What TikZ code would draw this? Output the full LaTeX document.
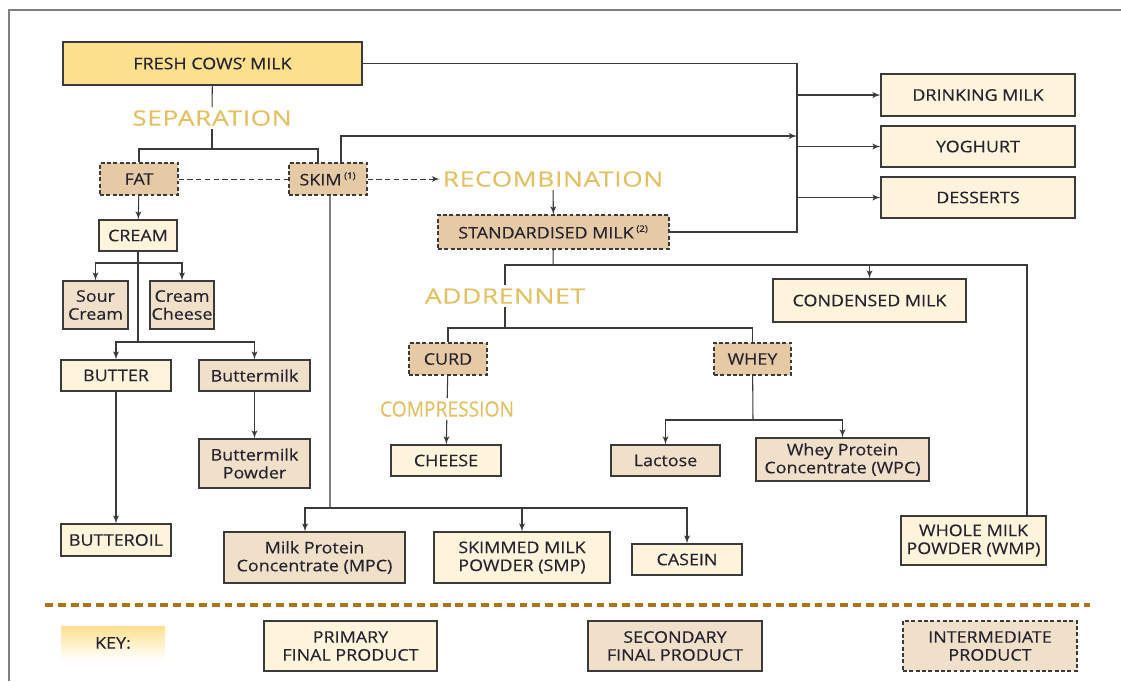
\documentclass[tikz,border=0pt]{standalone}
\usepackage{fontspec}
\setmainfont{Open Sans}
\usepackage{tikz}
\usetikzlibrary{arrows}
\usetikzlibrary{positioning}
\definecolor{primfill}{HTML}{FEF4DC}
\definecolor{secfill}{HTML}{F0DFC9}
\definecolor{midfill}{HTML}{E6CAA6}
\definecolor{freshfill}{HTML}{FDE08E}
\definecolor{linecol}{HTML}{3A3A3A}
\definecolor{txtcol}{HTML}{25232F}
\definecolor{goldtxt}{HTML}{E2C164}
\definecolor{rulebrown}{HTML}{AD7316}
\tikzset{>=latex'}
\tikzset{wh/.style 2 args = {minimum width=#1*0.02cm, minimum height=#2*0.02cm,
                             inner sep=0pt, align=center, text=txtcol,
                             font=\fontsize{9.1}{10.2}\selectfont\addfontfeature{FakeStretch=1.12,FakeBold=0.3}}}
\tikzset{primbox/.style = {draw=linecol, fill=primfill, line width=0.6pt}}
\tikzset{secbox/.style = {draw=linecol, fill=secfill, line width=0.6pt}}
\tikzset{midbox/.style = {draw=linecol, fill=midfill, line width=0.6pt,
                          dash pattern=on 2.2pt off 1.4pt}}
\tikzset{stagelbl/.style = {text=goldtxt, inner sep=1.5pt,
                            font=\fontsize{12}{14}\selectfont\addfontfeature{FakeStretch=1.25,LetterSpace=3,FakeBold=0.3}}}
\newcommand{\fnote}[1]{\textsuperscript{\fontsize{5}{6}\selectfont(#1)}}

\begin{document}
\begin{tikzpicture}[x=0.02cm, y=-0.02cm, line width=0.6pt, draw=linecol]
      \useasboundingbox (0,0) rectangle (1121,681);
      \draw [gray] (9,681) -- (9,10) -- (1121,10);
      % products and steps
      \node [primbox, fill=freshfill, wh={299}{43}] (fresh) at (212.5,63.5) {FRESH COWS' MILK};
      \node [stagelbl] (sep) at (212,118) {SEPARATION};
      \node [midbox, wh={78}{32}] (fat) at (139,179) {FAT};
      \node [midbox, wh={78}{32}] (skim) at (328,179) {SKIM\,\fnote{1}};
      \node [stagelbl] (recomb) at (553,179) {RECOMBINATION};
      \node [midbox, wh={231}{34}] (std) at (553.5,232) {STANDARDISED MILK\,\fnote{2}};
      \node [primbox, wh={194}{42}] (drink) at (978,95) {DRINKING MILK};
      \node [primbox, wh={194}{41}] (yog) at (978,146.5) {YOGHURT};
      \node [primbox, wh={194}{41}] (dess) at (978,197.5) {DESSERTS};
      \node [primbox, wh={78}{31}] (cream) at (138,235.5) {CREAM};
      \node [secbox, wh={65}{48}] (sour) at (95.5,305) {Sour\\Cream};
      \node [secbox, wh={64}{48}] (ccheese) at (182,305) {Cream\\Cheese};
      \node [primbox, wh={110}{31}] (butter) at (116,375.5) {BUTTER};
      \node [secbox, wh={111}{31}] (bmilk) at (254.5,375.5) {Buttermilk};
      \node [secbox, wh={111}{49}] (bpowder) at (254.5,463.5) {Buttermilk\\Powder};
      \node [primbox, wh={110}{32}] (butteroil) at (116,540) {BUTTEROIL};
      \node [primbox, wh={193}{43}] (cond) at (869.5,300.5) {CONDENSED MILK};
      \node [stagelbl] (addr) at (505,296) {ADDRENNET};
      \node [stagelbl, font=\fontsize{12}{14}\selectfont\addfontfeature{FakeBold=0.3}] (compr) at (447,409) {\scalebox{0.91}[1]{COMPRESSION}};
      \node [midbox, wh={78}{32}] (curd) at (448,359) {CURD};
      \node [midbox, wh={77}{32}] (whey) at (752.5,359) {WHEY};
      \node [primbox, wh={110}{31}] (cheese) at (446,460.5) {CHEESE};
      \node [secbox, wh={109}{31}] (lactose) at (665.5,460.5) {Lactose};
      \node [secbox, wh={173}{43}] (wpc) at (842.5,459.5) {Whey Protein\\Concentrate (WPC)};
      \node [primbox, wh={145}{49}] (wmp) at (973.5,540.5) {WHOLE MILK\\POWDER (WMP)};
      \node [secbox, wh={181}{51}] (mpc) at (314.5,557.5) {Milk Protein\\Concentrate (MPC)};
      \node [primbox, wh={176}{51}] (smp) at (522,557.5) {SKIMMED MILK\\POWDER (SMP)};
      \node [primbox, wh={110}{31}] (casein) at (687,559.5) {CASEIN};
      % junctions
      \coordinate (sepj) at (212,149);
      \coordinate (bus) at (797,0);
      \coordinate (skimbus) at (797,136);
      \coordinate (stdj) at (553,265);
      \coordinate (addrj) at (505,328);
      \coordinate (wheyj) at (753,420);
      \coordinate (creamj) at (138,263);
      \coordinate (churnj) at (138,342);
      \coordinate (skimj) at (330,508);
      % connectors
      \draw (fresh) -- (sep);
      \draw (sep) -- (sepj);
      \draw (sepj) -| (fat);
      \draw (sepj) -| ([xshift=-0.2cm]skim.north);
      \draw [line width=0.5pt, dash pattern=on 3pt off 2pt] (fat) -- (skim);
      \draw [line width=0.5pt, dash pattern=on 3pt off 2pt, ->] (skim) -- (recomb);
      \draw [->] ([xshift=0.26cm]skim.north) |- (skimbus);
      \draw (fresh.east) -- (fresh.east -| bus) -- (std.east -| bus) -- (std.east);
      \draw [->] (drink.west -| bus) -- (drink.west);
      \draw [->] (yog.west -| bus) -- (yog.west);
      \draw [->] (dess.west -| bus) -- (dess.west);
      \draw [->] (recomb) -- (std);
      \draw (std) -- (stdj);
      \draw (stdj) -| (addr);
      \draw [->] (stdj) -| (cond);
      \draw (stdj) -| ([xshift=1.07cm]wmp.north);
      \draw (addr) -- (addrj);
      \draw (addrj) -| (curd);
      \draw (addrj) -| (whey);
      \draw (curd) -- (compr);
      \draw [->] (compr) -- (cheese);
      \draw (whey) -- (wheyj);
      \draw [->] (wheyj) -| (lactose);
      \draw [->] (wheyj) -| (wpc);
      \draw [->] (fat) -- (cream);
      \draw (cream) -- (churnj);
      \draw [->] (creamj) -| (sour);
      \draw [->] (creamj) -| (ccheese);
      \draw [->] (churnj) -| (butter);
      \draw [->] (churnj) -| (bmilk);
      \draw [->] (bmilk) -- (bpowder);
      \draw [->] (butter) -- (butteroil);
      \draw ([xshift=0.04cm]skim.south) -- (skimj);
      \draw [->] (skimj) -| ([xshift=-0.19cm]mpc.north);
      \draw [->] (skimj) -| (smp);
      \draw [->] (skimj) -| (casein);
      % key
      \draw [rulebrown, line width=2.2pt, dash pattern=on 4.5pt off 2.8pt] (45,605) -- (1090,605);
      \node [wh={104}{34}, top color=freshfill, bottom color=white] (key) at (113,643) {KEY:};
      \node [primbox, wh={173}{50}] (kprim) at (350.5,646) {PRIMARY\\FINAL PRODUCT};
      \node [secbox, wh={174}{50}] (ksec) at (675,646) {SECONDARY\\FINAL PRODUCT};
      \node [midbox, fill=secfill, wh={174}{50}] (kmid) at (990,646) {INTERMEDIATE\\PRODUCT};
    \end{tikzpicture}
\end{document}
